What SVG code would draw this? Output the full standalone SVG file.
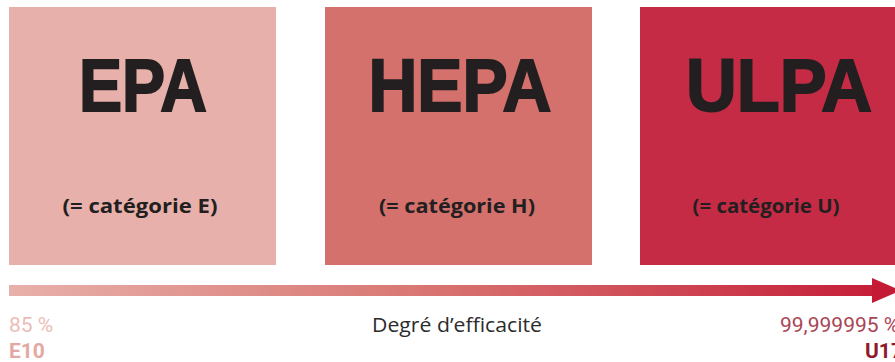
<svg xmlns="http://www.w3.org/2000/svg" width="895" height="362" viewBox="0 0 895 362">
<defs>
<linearGradient id="g" x1="9" y1="0" x2="900" y2="0" gradientUnits="userSpaceOnUse">
<stop offset="0" stop-color="#e8b0aa"/>
<stop offset="0.45" stop-color="#d97874"/>
<stop offset="1" stop-color="#c41a36"/>
</linearGradient>
<style>
.big{font-family:"Liberation Sans",Arial,sans-serif;font-weight:bold;font-size:75px;fill:#231f20;stroke:#231f20;stroke-width:2;text-anchor:middle}
.sub{font-family:"Open Sans","Liberation Sans",sans-serif;font-weight:bold;font-size:20px;fill:#231f20;text-anchor:middle}
.lbl{font-family:"Roboto","Liberation Sans",sans-serif;font-size:21px}
</style>
</defs>
<rect width="895" height="362" fill="#ffffff"/>
<g id="epa">
<rect x="9" y="7" width="267" height="258" fill="#e8b0aa"/>
<text class="big" x="143" y="111" textLength="128" lengthAdjust="spacingAndGlyphs">EPA</text>
<text class="sub" x="140" y="213" textLength="155" lengthAdjust="spacingAndGlyphs">(= catégorie E)</text>
</g>
<g id="hepa">
<rect x="325" y="7" width="267" height="258" fill="#d4716c"/>
<text class="big" x="460" y="111" textLength="183" lengthAdjust="spacingAndGlyphs">HEPA</text>
<text class="sub" x="457" y="213" textLength="156" lengthAdjust="spacingAndGlyphs">(= catégorie H)</text>
</g>
<g id="ulpa">
<rect x="640" y="7" width="255" height="258" fill="#c52b45"/>
<text class="big" x="779" y="111" textLength="186" lengthAdjust="spacingAndGlyphs">ULPA</text>
<text class="sub" x="766" y="213" textLength="147" lengthAdjust="spacingAndGlyphs">(= catégorie U)</text>
</g>
<g id="connectors">
<rect x="9" y="285" width="866" height="11" fill="url(#g)"/>
<polygon points="872,278 901,290.5 872,303" fill="#c41a36"/>
</g>
<g id="labels">
<text class="lbl" x="9" y="332" fill="#ebbdb8">85 %</text>
<text class="lbl" x="9" y="358" fill="#e2a9a4" font-weight="bold" font-size="18">E10</text>
<text x="457" y="332" text-anchor="middle" font-family="Open Sans, Liberation Sans, sans-serif" font-size="20" fill="#2b2b2b" textLength="170" lengthAdjust="spacingAndGlyphs">Degré d’efficacité</text>
<text class="lbl" x="780" y="332" fill="#aa4555">99,999995 %</text>
<text class="lbl" x="865" y="358" fill="#8e1a2c" font-weight="bold" font-size="18">U17</text>
</g>
</svg>
